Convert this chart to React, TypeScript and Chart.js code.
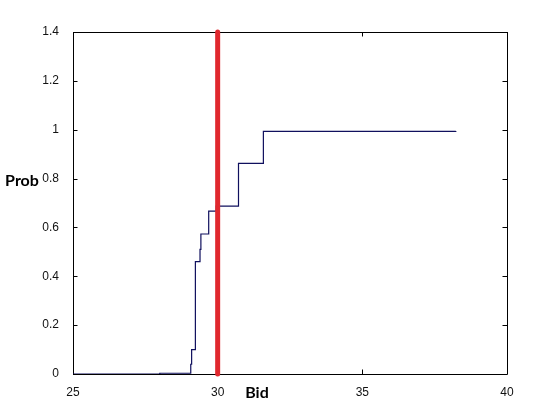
import React, { useEffect, useRef } from "react";
import { Chart, registerables } from "chart.js";

Chart.register(...registerables);

// Step (CDF) breakpoints: bid value and probability after the step
const bidSteps = [25, 28.0, 29.07, 29.1, 29.23, 29.39, 29.42, 29.69, 29.95, 30.72, 31.58, 38.23];
const probSteps = [0, 0.003, 0.04, 0.1, 0.46, 0.51, 0.573, 0.667, 0.687, 0.862, 0.993, 0.995];

// Vertical marker at bid = 30
const markerBid = [30, 30];
const markerProb = [0, 1.4];

const xTicks = [25, 30, 35, 40];
const yTicks = [0, 0.2, 0.4, 0.6, 0.8, 1, 1.2, 1.4];
const xTickLabels = ["25", "30", "35", "40"];
const yTickLabels = ["0", "0.2", "0.4", "0.6", "0.8", "1", "1.2", "1.4"];

const xTitle = "Bid";
const yTitle = "Prob";

export default function App() {
  const ref = useRef<HTMLCanvasElement | null>(null);

  useEffect(() => {
    const canvas = ref.current;
    if (!canvas) return;

    const framePlugin = {
      id: "frame",
      beforeDatasetsDraw(chart: any) {
        const { ctx, chartArea } = chart;
        const xs = chart.scales.x;
        const ys = chart.scales.y;
        const { left, right, top, bottom } = chartArea;
        ctx.save();
        ctx.strokeStyle = "#000";
        ctx.lineWidth = 1;
        ctx.beginPath();
        ctx.rect(Math.round(left) + 0.5, Math.round(top) + 0.5, Math.round(right - left), Math.round(bottom - top));
        ctx.stroke();
        const tl = 4.5;
        ctx.beginPath();
        xTicks.forEach((v) => {
          const px = Math.round(xs.getPixelForValue(v)) + 0.5;
          ctx.moveTo(px, bottom);
          ctx.lineTo(px, bottom - tl);
          ctx.moveTo(px, top);
          ctx.lineTo(px, top + tl);
        });
        yTicks.forEach((v) => {
          const py = Math.round(ys.getPixelForValue(v)) + 0.5;
          ctx.moveTo(left, py);
          ctx.lineTo(left + tl, py);
          ctx.moveTo(right, py);
          ctx.lineTo(right - tl, py);
        });
        ctx.stroke();
        ctx.restore();
      },
      afterDraw(chart: any) {
        const { ctx } = chart;
        ctx.save();
        ctx.fillStyle = "#000";
        ctx.font = "bold 16px Lato, 'Liberation Sans', sans-serif";
        ctx.textAlign = "center";
        ctx.textBaseline = "middle";
        ctx.fillText(yTitle, 22, 181);
        ctx.fillText(xTitle, 257, 393);
        ctx.restore();
      },
    };

    const chart = new Chart(canvas, {
      type: "line",
      data: {
        datasets: [
          {
            data: markerBid.map((x, i) => ({ x, y: markerProb[i] })),
            borderColor: "#e0282e",
            borderWidth: 5,
            borderCapStyle: "round",
            pointRadius: 0,
            clip: false as any,
          },
          {
            data: bidSteps.map((x, i) => ({ x, y: probSteps[i] })),
            borderColor: "#10105e",
            borderWidth: 1.2,
            stepped: "before",
            pointRadius: 0,
          },
        ],
      },
      plugins: [framePlugin],
      options: {
        animation: false,
        responsive: false,
        maintainAspectRatio: false,
        layout: { padding: { top: 32, right: 53, left: 0, bottom: 0 } },
        plugins: { legend: { display: false }, tooltip: { enabled: false } },
        scales: {
          x: {
            type: "linear",
            min: 25,
            max: 40,
            grid: { display: false },
            border: { display: false },
            afterFit(scale: any) {
              scale.height = 46;
            },
            afterBuildTicks(scale: any) {
              scale.ticks = xTicks.map((v) => ({ value: v }));
            },
            ticks: {
              padding: 3,
              maxRotation: 0,
              color: "#111",
              font: { family: "'Liberation Sans', Arial, sans-serif", size: 12 },
              callback: (v: any) => {
                const i = xTicks.indexOf(Number(v));
                return i >= 0 ? xTickLabels[i] : "";
              },
            },
          },
          y: {
            type: "linear",
            min: 0,
            max: 1.4,
            grid: { display: false },
            border: { display: false },
            afterFit(scale: any) {
              scale.width = 73;
            },
            afterBuildTicks(scale: any) {
              scale.ticks = yTicks.map((v) => ({ value: v }));
            },
            ticks: {
              padding: 6,
              color: "#111",
              font: { family: "'Liberation Sans', Arial, sans-serif", size: 12 },
              callback: (v: any) => {
                const i = yTicks.findIndex((t) => Math.abs(t - Number(v)) < 1e-9);
                return i >= 0 ? yTickLabels[i] : "";
              },
            },
          },
        },
      },
    });

    return () => chart.destroy();
  }, []);

  return (
    <div style={{ position: "fixed", left: 0, top: 0, width: 560, height: 420, background: "#fff" }}>
      <canvas ref={ref} width={560} height={420} style={{ width: 560, height: 420 }} />
    </div>
  );
}
